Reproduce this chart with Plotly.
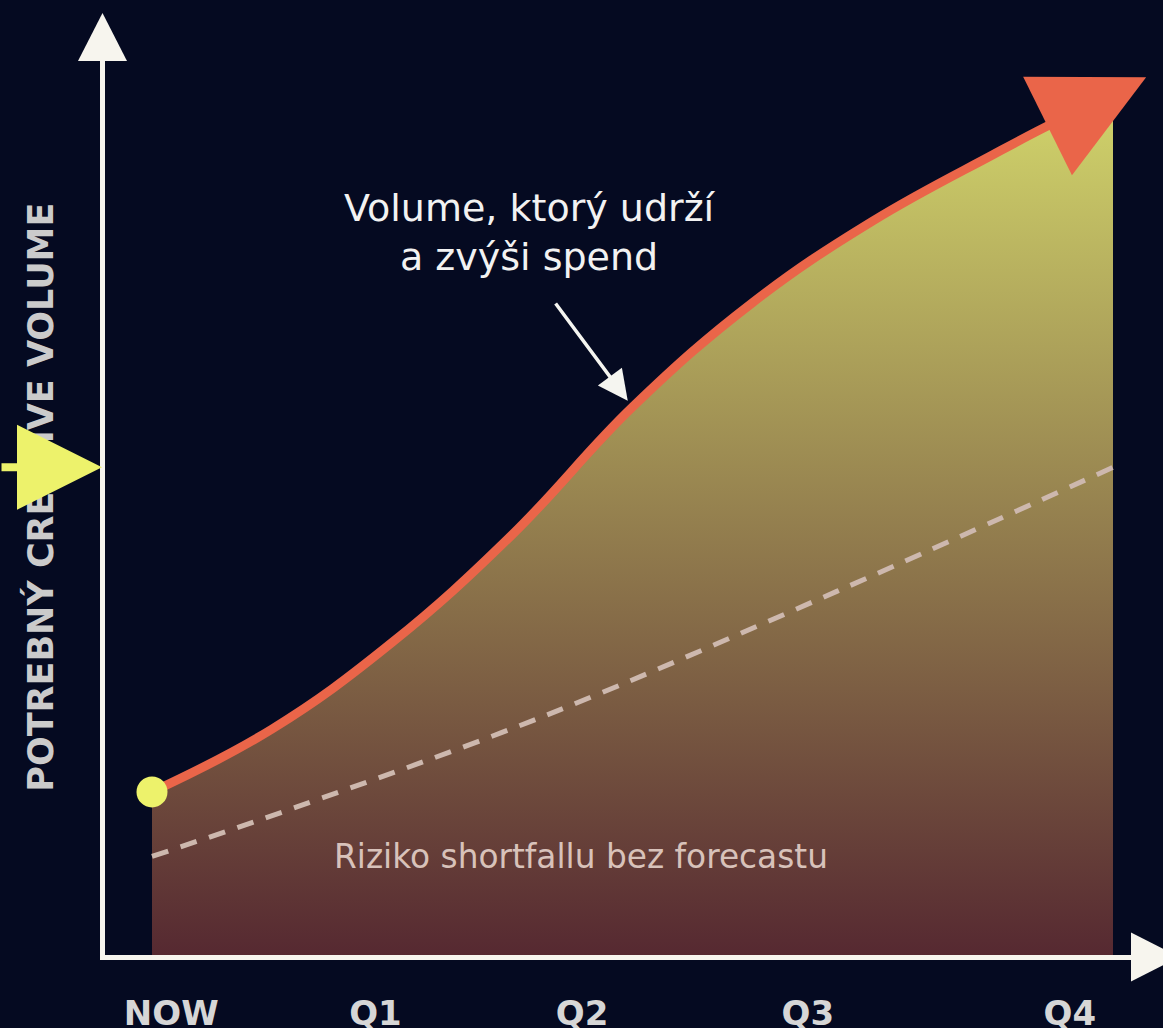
import math
import plotly.graph_objects as go

# ---------------- data ----------------
periods = ["NOW", "Q1", "Q2", "Q3", "Q4"]
needed_x = [0, 0.5, 1.0, 1.5, 2.0, 2.5, 3.0, 3.5, 3.75, 4.0]
needed_y = [19.2, 26.6, 36.8, 49.5, 64.5, 76.8, 86.4, 94.2, 97.9, 101.2]
forecast_x = [0, 0.6, 1.63, 2.85, 4.0]
forecast_y = [11.6, 17.4, 28.1, 42.8, 57.4]

# ---------------- layout constants ----------------
period_pos = [0.08, 0.93, 1.79, 2.73, 3.82]
W, H = 1163, 1028
L, R, T, B = 105, 13, 38, 72.5
PW, PH = W - L - R, H - T - B
SX, SY = 240.25, 8.5           # pixels per data unit
X0 = -(152 - L) / SX
X_RANGE = [X0, X0 + PW / SX]
Y_RANGE = [0, PH / SY]

BG = "#050a21"
AXIS = "#f7f5ee"
ORANGE = "#ea6549"
YELLOW = "#edf26b"
DASH = "#cdb8ae"
FONT = "DejaVu Sans"


def to_px(x, y):
    return L + (x - X0) * SX, T + PH - y * SY


def from_px(px, py):
    return X0 + (px - L) / SX, (T + PH - py) / SY


def paper_x(px):
    return (px - L) / PW


def paper_y(py):
    return (T + PH - py) / PH


def tri_path(pts):
    return "M " + " L ".join(f"{paper_x(a):.5f},{paper_y(b):.5f}" for a, b in pts) + " Z"


fig = go.Figure()

# gradient area under the needed-volume curve
fig.add_trace(go.Scatter(
    x=needed_x, y=needed_y, mode="lines", line=dict(width=0, shape="spline", smoothing=1.15),
    fill="tozeroy",
    fillgradient=dict(type="vertical", colorscale=[[0, "#562931"], [1, "#d1d46b"]],
                      start=0, stop=max(needed_y)),
    hoverinfo="skip",
))

# dashed forecast line
fig.add_trace(go.Scatter(
    x=forecast_x, y=forecast_y, mode="lines",
    line=dict(color=DASH, width=5, dash="17px,13px", shape="spline", smoothing=1),
    hoverinfo="skip",
))

# needed volume line
fig.add_trace(go.Scatter(
    x=needed_x, y=needed_y, mode="lines",
    line=dict(color=ORANGE, width=9, shape="spline", smoothing=1.15),
    hoverinfo="skip",
))

# arrowhead at the end of the curve (derived from the curve's end direction)
bx, by = to_px(needed_x[-2], needed_y[-2])
ax_, ay_ = to_px(needed_x[-3], needed_y[-3])
cx_, cy_ = to_px(needed_x[-1], needed_y[-1])
dx, dy = cx_ - ax_, cy_ - ay_
n = math.hypot(dx, dy)
dx, dy = dx / n, dy / n
bx, by = bx - 6 * dx, by - 6 * dy
HEAD_LEN, HEAD_HALF = 110, 55
tip = (bx + dx * HEAD_LEN, by + dy * HEAD_LEN)
v1 = (bx - dy * HEAD_HALF, by + dx * HEAD_HALF)
v2 = (bx + dy * HEAD_HALF, by - dx * HEAD_HALF)
tri = [from_px(*p) for p in (v1, tip, v2, v1)]
fig.add_trace(go.Scatter(
    x=[p[0] for p in tri], y=[p[1] for p in tri], mode="lines",
    fill="toself", fillcolor=ORANGE, line=dict(width=0), hoverinfo="skip",
))

# start dot
fig.add_trace(go.Scatter(
    x=[needed_x[0]], y=[needed_y[0]], mode="markers",
    marker=dict(size=31, color=YELLOW, line=dict(width=0)), hoverinfo="skip",
    cliponaxis=False,
))

fig.update_xaxes(
    range=X_RANGE, showgrid=False, zeroline=False, showline=True, linecolor=AXIS, linewidth=5,
    ticks="", tickmode="array", tickvals=period_pos, ticktext=periods,
    tickfont=dict(family=FONT, size=34, color="#d6d6d6", weight="bold"),
    ticklabelstandoff=24, automargin=False, fixedrange=True,
)
fig.update_yaxes(
    range=Y_RANGE, showgrid=False, zeroline=False, showline=True, linecolor=AXIS, linewidth=5,
    ticks="", showticklabels=False, automargin=False, fixedrange=True,
)

# axis arrowheads
shapes = [
    dict(type="path", xref="paper", yref="paper", layer="above",
         path=tri_path([(78, 61), (102.5, 13), (127, 61)]), fillcolor=AXIS, line=dict(width=0)),
    dict(type="path", xref="paper", yref="paper", layer="above",
         path=tri_path([(1131, 933), (1179, 957.5), (1131, 982)]), fillcolor=AXIS, line=dict(width=0)),
]

annotations = [
    dict(text="POTREBNÝ CREATIVE VOLUME", xref="paper", yref="paper",
         x=paper_x(40), y=paper_y(498), textangle=-90, showarrow=False,
         xanchor="center", yanchor="middle",
         font=dict(family=FONT, size=35, color="#cbcbcb", weight="bold")),
    dict(text="Volume, ktorý udrží<br>a zvýši spend", xref="x", yref="y",
         x=from_px(530, 0)[0], y=from_px(0, 233)[1], showarrow=False,
         xanchor="center", yanchor="middle", align="center",
         font=dict(family=FONT, size=38, color="#f2f2f2")),
    dict(text="Riziko shortfallu bez forecastu", xref="x", yref="y",
         x=from_px(581, 0)[0], y=from_px(0, 857)[1], showarrow=False,
         xanchor="center", yanchor="middle",
         font=dict(family=FONT, size=32.8, color="#d8c2ba")),
    dict(text="", xref="x", yref="y", x=needed_x[4], y=needed_y[4],
         showarrow=True, ax=-78, ay=-105, arrowhead=2, arrowsize=1.71, arrowwidth=3.5,
         arrowcolor="#f5f5f0", standoff=8),
    dict(text="", xref="paper", yref="y", x=paper_x(102), y=forecast_y[-1],
         showarrow=True, ax=-102, ay=0, arrowhead=2, arrowsize=2.125, arrowwidth=8,
         arrowcolor=YELLOW, standoff=0),
]

fig.update_layout(
    width=W, height=H,
    margin=dict(l=L, r=R, t=T, b=B, pad=0, autoexpand=False),
    paper_bgcolor=BG, plot_bgcolor=BG, showlegend=False,
    shapes=shapes, annotations=annotations,
    font=dict(family=FONT),
)

fig.write_html(
    "out.html",
    config={"displayModeBar": False},
    post_script="document.body.style.margin='0';document.body.style.background='#050a21';",
)
